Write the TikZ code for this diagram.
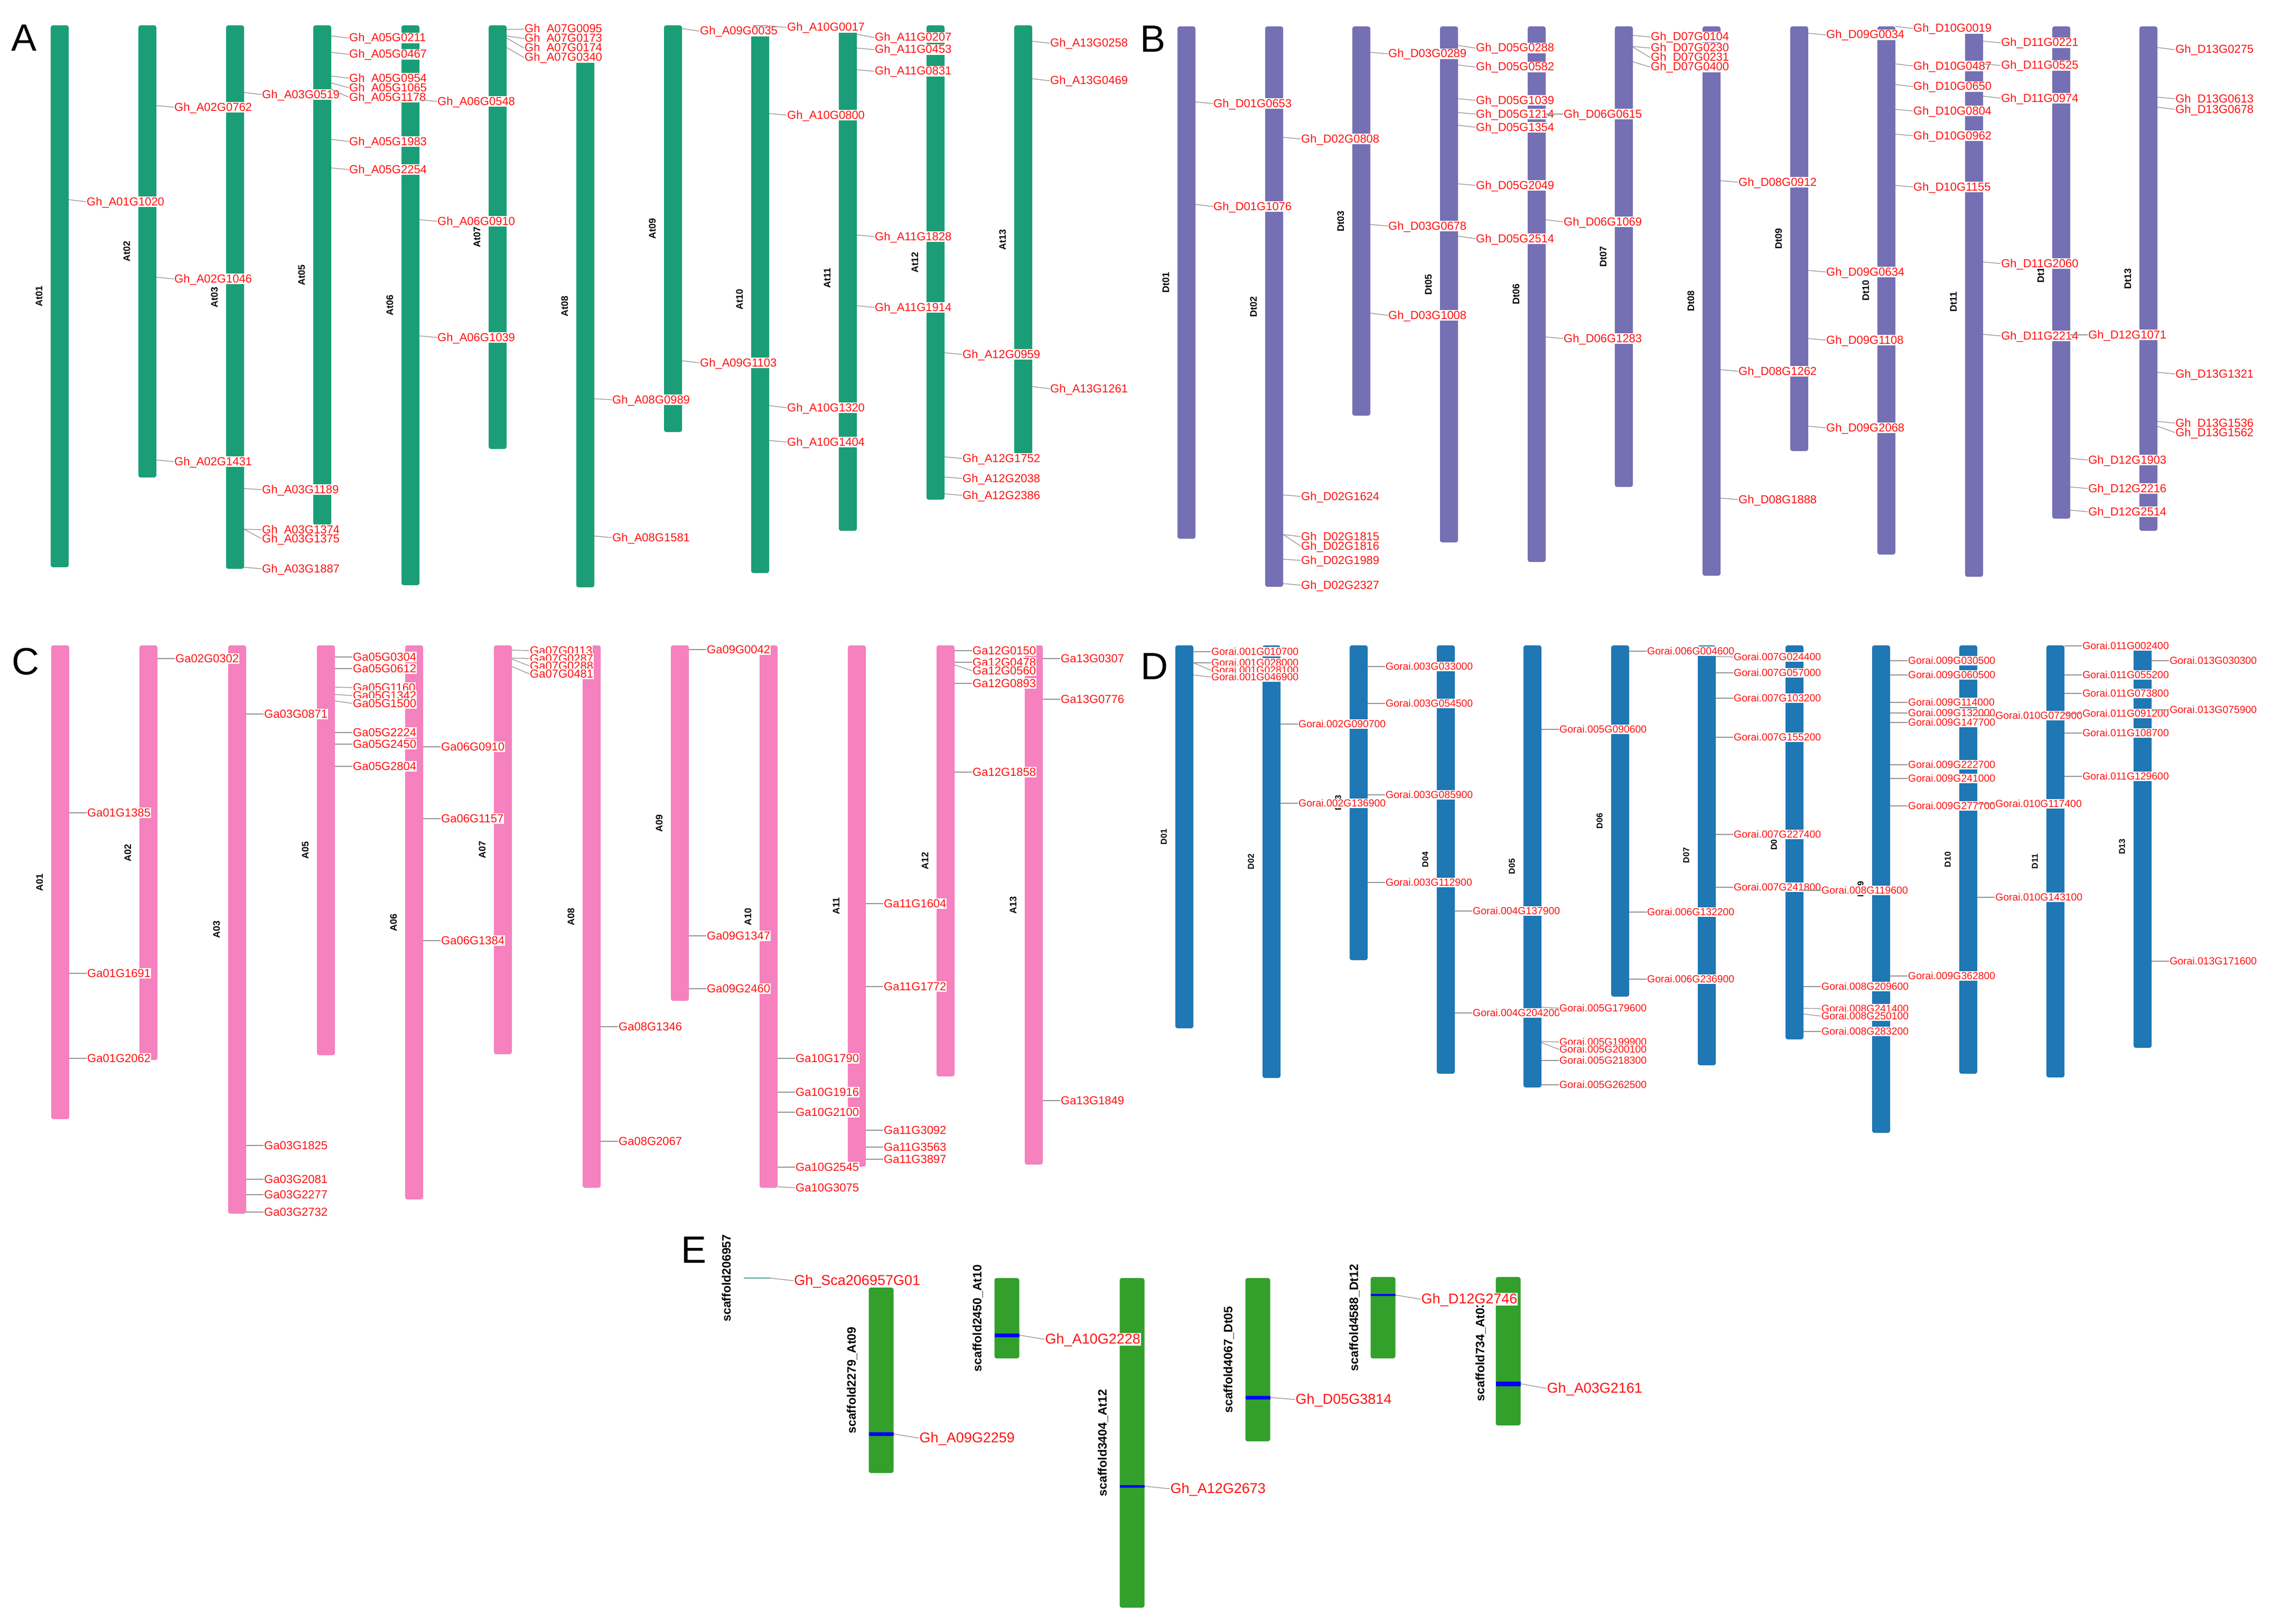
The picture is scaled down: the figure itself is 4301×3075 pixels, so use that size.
\documentclass[tikz,border=0pt]{standalone}
\usepackage{fontspec}
\setmainfont{Liberation Sans}
\definecolor{cA}{HTML}{1B9E77}
\definecolor{cB}{HTML}{7570B3}
\definecolor{cC}{HTML}{F581BE}
\definecolor{cD}{HTML}{1F77B4}
\definecolor{cE}{HTML}{33A02C}
\definecolor{cT}{HTML}{4FA89C}
\definecolor{lred}{HTML}{FF1010}
\definecolor{lgray}{HTML}{959595}
\tikzset{
 chrbar/.style={draw=none, rounded corners=4pt, minimum width=34pt, inner sep=0pt, outer sep=0pt},
 chrlab/.style={font=\fontsize{18}{18}\selectfont\bfseries, rotate=90, inner sep=0pt},
 glab/.style={anchor=west, fill=white, text=lred, inner xsep=1pt, inner ysep=1pt, text height=16pt, text depth=2pt, font=\fontsize{22}{22}\selectfont},
 conn/.style={draw=lgray, line width=1.3pt},
 panel/.style={font=\fontsize{72}{72}\selectfont, inner sep=0pt},
 elab/.style={font=\fontsize{23}{23}\selectfont\bfseries, rotate=90, inner sep=0pt},
 bluemark/.style={draw=blue},
}
\newcommand\chr[5]{%
 \pgfmathsetmacro\hh{#4-#3}\pgfmathsetmacro\mm{(#3+#4)/2}%
 \node[chrbar,fill=#5,minimum height=\hh pt] (#1) at (#2,\mm) {};%
 \node[chrlab] (#1l) at ([xshift=-39pt]#1.center) {#1};}
\newcommand\chrE[4]{%
 \pgfmathsetmacro\hh{#4-#3}\pgfmathsetmacro\mm{(#3+#4)/2}%
 \node[chrbar,fill=cE,minimum width=47pt,minimum height=\hh pt] (#1) at (#2,\mm) {};}
\newcounter{gn}
\newcommand\gl[5][33]{\stepcounter{gn}\edef\gid{\arabic{gn}}%
 \coordinate (m\gid) at (#2.east |- 0,#3);%
 \node[glab,xshift=#1pt] (g\gid) at (#2.east |- 0,#4) {#5};%
 \draw[conn] (m\gid) -- (g\gid.west);}
\begin{document}
\begin{tikzpicture}[x=1pt,y=-1pt]
\useasboundingbox (0,0) rectangle (4301,3075);
\fill[white] (0,0) rectangle (4301,3075);
% ---------------- Panel A
\node[panel] (pA) at (46,72) {A};
\chr{At01}{113}{48}{1074}{cA}
\chr{At02}{279}{48}{904}{cA}
\chr{At03}{445}{48}{1077}{cA}
\chr{At05}{610}{48}{994}{cA}
\chr{At06}{777}{48}{1108}{cA}
\chr{At07}{942}{48}{850}{cA}
\chr{At08}{1108}{48}{1112}{cA}
\chr{At09}{1274}{48}{818}{cA}
\chr{At10}{1439}{48}{1085}{cA}
\chr{At11}{1605}{48}{1005}{cA}
\chr{At12}{1771}{48}{946}{cA}
\chr{At13}{1937}{48}{860}{cA}
\gl{At01}{378}{382}{Gh\_A01G1020}
\gl{At02}{200}{203}{Gh\_A02G0762}
\gl{At02}{525}{528}{Gh\_A02G1046}
\gl{At02}{871}{874}{Gh\_A02G1431}
\gl{At03}{175}{179}{Gh\_A03G0519}
\gl{At03}{925}{927}{Gh\_A03G1189}
\gl{At03}{1002}{1003}{Gh\_A03G1374}
\gl{At03}{1002}{1020}{Gh\_A03G1375}
\gl{At03}{1074}{1077}{Gh\_A03G1887}
\gl{At05}{68}{72}{Gh\_A05G0211}
\gl{At05}{99}{103}{Gh\_A05G0467}
\gl{At05}{144}{148}{Gh\_A05G0954}
\gl{At05}{157}{166}{Gh\_A05G1065}
\gl{At05}{169}{184}{Gh\_A05G1178}
\gl{At05}{264}{268}{Gh\_A05G1983}
\gl{At05}{318}{321}{Gh\_A05G2254}
\gl{At06}{189}{192}{Gh\_A06G0548}
\gl{At06}{416}{419}{Gh\_A06G0910}
\gl{At06}{636}{639}{Gh\_A06G1039}
\gl{At07}{56}{55}{Gh\_A07G0095}
\gl{At07}{68}{73}{Gh\_A07G0173}
\gl{At07}{72}{91}{Gh\_A07G0174}
\gl{At07}{90}{109}{Gh\_A07G0340}
\gl{At08}{755}{757}{Gh\_A08G0989}
\gl{At08}{1015}{1018}{Gh\_A08G1581}
\gl{At09}{54}{59}{Gh\_A09G0035}
\gl{At09}{683}{687}{Gh\_A09G1103}
\gl{At10}{49}{52}{Gh\_A10G0017}
\gl{At10}{215}{218}{Gh\_A10G0800}
\gl{At10}{768}{772}{Gh\_A10G1320}
\gl{At10}{834}{837}{Gh\_A10G1404}
\gl{At11}{65}{71}{Gh\_A11G0207}
\gl{At11}{91}{94}{Gh\_A11G0453}
\gl{At11}{132}{135}{Gh\_A11G0831}
\gl{At11}{445}{448}{Gh\_A11G1828}
\gl{At11}{579}{582}{Gh\_A11G1914}
\gl{At12}{668}{671}{Gh\_A12G0959}
\gl{At12}{865}{868}{Gh\_A12G1752}
\gl{At12}{903}{906}{Gh\_A12G2038}
\gl{At12}{935}{938}{Gh\_A12G2386}
\gl{At13}{78}{82}{Gh\_A13G0258}
\gl{At13}{149}{153}{Gh\_A13G0469}
\gl{At13}{732}{736}{Gh\_A13G1261}
% ---------------- Panel B
\node[panel] (pB) at (2182,74) {B};
\chr{Dt01}{2246}{50}{1020}{cB}
\chr{Dt02}{2412}{50}{1111}{cB}
\chr{Dt03}{2577}{50}{787}{cB}
\chr{Dt05}{2743}{50}{1027}{cB}
\chr{Dt06}{2909}{50}{1064}{cB}
\chr{Dt07}{3074}{50}{922}{cB}
\chr{Dt08}{3240}{50}{1090}{cB}
\chr{Dt09}{3406}{50}{854}{cB}
\chr{Dt10}{3571}{50}{1050}{cB}
\chr{Dt11}{3737}{50}{1092}{cB}
\chr{Dt12}{3902}{50}{982}{cB}
\chr{Dt13}{4067}{50}{1005}{cB}
\gl{Dt01}{193}{196}{Gh\_D01G0653}
\gl{Dt01}{387}{391}{Gh\_D01G1076}
\gl{Dt02}{260}{263}{Gh\_D02G0808}
\gl{Dt02}{937}{940}{Gh\_D02G1624}
\gl{Dt02}{1012}{1016}{Gh\_D02G1815}
\gl{Dt02}{1012}{1034}{Gh\_D02G1816}
\gl{Dt02}{1059}{1061}{Gh\_D02G1989}
\gl{Dt02}{1105}{1108}{Gh\_D02G2327}
\gl{Dt03}{99}{102}{Gh\_D03G0289}
\gl{Dt03}{425}{428}{Gh\_D03G0678}
\gl{Dt03}{593}{597}{Gh\_D03G1008}
\gl{Dt05}{86}{91}{Gh\_D05G0288}
\gl{Dt05}{123}{127}{Gh\_D05G0582}
\gl{Dt05}{187}{190}{Gh\_D05G1039}
\gl{Dt05}{213}{216}{Gh\_D05G1214}
\gl{Dt05}{237}{241}{Gh\_D05G1354}
\gl{Dt05}{348}{351}{Gh\_D05G2049}
\gl{Dt05}{447}{452}{Gh\_D05G2514}
\gl{Dt06}{216}{216}{Gh\_D06G0615}
\gl{Dt06}{416}{420}{Gh\_D06G1069}
\gl{Dt06}{638}{641}{Gh\_D06G1283}
\gl{Dt07}{67}{70}{Gh\_D07G0104}
\gl{Dt07}{88}{91}{Gh\_D07G0230}
\gl{Dt07}{89}{109}{Gh\_D07G0231}
\gl{Dt07}{117}{127}{Gh\_D07G0400}
\gl{Dt08}{342}{345}{Gh\_D08G0912}
\gl{Dt08}{700}{703}{Gh\_D08G1262}
\gl{Dt08}{943}{946}{Gh\_D08G1888}
\gl{Dt09}{63}{66}{Gh\_D09G0034}
\gl{Dt09}{512}{515}{Gh\_D09G0634}
\gl{Dt09}{641}{644}{Gh\_D09G1108}
\gl{Dt09}{807}{810}{Gh\_D09G2068}
\gl{Dt10}{50}{54}{Gh\_D10G0019}
\gl{Dt10}{121}{125}{Gh\_D10G0487}
\gl{Dt10}{160}{164}{Gh\_D10G0650}
\gl{Dt10}{207}{210}{Gh\_D10G0804}
\gl{Dt10}{254}{257}{Gh\_D10G0962}
\gl{Dt10}{351}{354}{Gh\_D10G1155}
\gl{Dt11}{78}{81}{Gh\_D11G0221}
\gl{Dt11}{121}{124}{Gh\_D11G0525}
\gl{Dt11}{182}{186}{Gh\_D11G0974}
\gl{Dt11}{496}{499}{Gh\_D11G2060}
\gl{Dt11}{633}{636}{Gh\_D11G2214}
\gl{Dt12}{634}{634}{Gh\_D12G1071}
\gl{Dt12}{868}{871}{Gh\_D12G1903}
\gl{Dt12}{922}{925}{Gh\_D12G2216}
\gl{Dt12}{966}{969}{Gh\_D12G2514}
\gl{Dt13}{90}{94}{Gh\_D13G0275}
\gl{Dt13}{184}{187}{Gh\_D13G0613}
\gl{Dt13}{203}{207}{Gh\_D13G0678}
\gl{Dt13}{705}{708}{Gh\_D13G1321}
\gl{Dt13}{798}{801}{Gh\_D13G1536}
\gl{Dt13}{807}{819}{Gh\_D13G1562}
% ---------------- Panel C
\node[panel] (pC) at (48,1253) {C};
\chr{A01}{114}{1222}{2119}{cC}
\chr{A02}{281}{1222}{2007}{cC}
\chr{A03}{449}{1222}{2298}{cC}
\chr{A05}{617}{1222}{1998}{cC}
\chr{A06}{784}{1222}{2271}{cC}
\chr{A07}{952}{1222}{1996}{cC}
\chr{A08}{1120}{1222}{2249}{cC}
\chr{A09}{1287}{1222}{1895}{cC}
\chr{A10}{1455}{1222}{2249}{cC}
\chr{A11}{1622}{1222}{2209}{cC}
\chr{A12}{1790}{1222}{2038}{cC}
\chr{A13}{1957}{1222}{2205}{cC}
\gl{A01}{1539}{1539}{Ga01G1385}
\gl{A01}{1843}{1843}{Ga01G1691}
\gl{A01}{2004}{2004}{Ga01G2062}
\gl{A02}{1247}{1247}{Ga02G0302}
\gl{A03}{1352}{1352}{Ga03G0871}
\gl{A03}{2169}{2169}{Ga03G1825}
\gl{A03}{2233}{2233}{Ga03G2081}
\gl{A03}{2262}{2262}{Ga03G2277}
\gl{A03}{2295}{2295}{Ga03G2732}
\gl{A05}{1244}{1244}{Ga05G0304}
\gl{A05}{1266}{1266}{Ga05G0612}
\gl{A05}{1301}{1302}{Ga05G1160}
\gl{A05}{1315}{1317}{Ga05G1342}
\gl{A05}{1327}{1332}{Ga05G1500}
\gl{A05}{1387}{1387}{Ga05G2224}
\gl{A05}{1409}{1409}{Ga05G2450}
\gl{A05}{1451}{1451}{Ga05G2804}
\gl{A06}{1414}{1414}{Ga06G0910}
\gl{A06}{1550}{1550}{Ga06G1157}
\gl{A06}{1781}{1781}{Ga06G1384}
\gl{A07}{1231}{1232}{Ga07G0113}
\gl{A07}{1246}{1247}{Ga07G0287}
\gl{A07}{1248}{1261}{Ga07G0288}
\gl{A07}{1262}{1276}{Ga07G0481}
\gl{A08}{1944}{1944}{Ga08G1346}
\gl{A08}{2161}{2161}{Ga08G2067}
\gl{A09}{1230}{1230}{Ga09G0042}
\gl{A09}{1772}{1772}{Ga09G1347}
\gl{A09}{1872}{1872}{Ga09G2460}
\gl{A10}{2004}{2004}{Ga10G1790}
\gl{A10}{2068}{2068}{Ga10G1916}
\gl{A10}{2106}{2106}{Ga10G2100}
\gl{A10}{2210}{2210}{Ga10G2545}
\gl{A10}{2247}{2249}{Ga10G3075}
\gl{A11}{1711}{1711}{Ga11G1604}
\gl{A11}{1868}{1868}{Ga11G1772}
\gl{A11}{2140}{2140}{Ga11G3092}
\gl{A11}{2172}{2172}{Ga11G3563}
\gl{A11}{2195}{2195}{Ga11G3897}
\gl{A12}{1232}{1232}{Ga12G0150}
\gl{A12}{1254}{1254}{Ga12G0478}
\gl{A12}{1259}{1270}{Ga12G0560}
\gl{A12}{1294}{1294}{Ga12G0893}
\gl{A12}{1462}{1462}{Ga12G1858}
\gl{A13}{1247}{1247}{Ga13G0307}
\gl{A13}{1324}{1324}{Ga13G0776}
\gl{A13}{2084}{2084}{Ga13G1849}
% ---------------- Panel D
\node[panel] (pD) at (2185,1262) {D};
\begin{scope}[chrlab/.append style={font=\fontsize{16}{16}\selectfont\bfseries},
 glab/.append style={font=\fontsize{19.4}{19.4}\selectfont, text height=14pt, text depth=2pt}]
\chr{D01}{2242}{1222}{1947}{cD}
\chr{D02}{2407}{1222}{2041}{cD}
\chr{D03}{2572}{1222}{1818}{cD}
\chr{D04}{2737}{1222}{2033}{cD}
\chr{D05}{2901}{1222}{2059}{cD}
\chr{D06}{3067}{1222}{1887}{cD}
\chr{D07}{3231}{1222}{2017}{cD}
\chr{D08}{3397}{1222}{1968}{cD}
\chr{D09}{3561}{1222}{2145}{cD}
\chr{D10}{3726}{1222}{2033}{cD}
\chr{D11}{3891}{1222}{2040}{cD}
\chr{D13}{4056}{1222}{1984}{cD}
\gl{D01}{1234}{1234}{Gorai.001G010700}
\gl{D01}{1255}{1255}{Gorai.001G028000}
\gl{D01}{1255}{1269}{Gorai.001G028100}
\gl{D01}{1278}{1282}{Gorai.001G046900}
\gl{D02}{1371}{1371}{Gorai.002G090700}
\gl{D02}{1521}{1521}{Gorai.002G136900}
\gl{D03}{1262}{1262}{Gorai.003G033000}
\gl{D03}{1332}{1332}{Gorai.003G054500}
\gl{D03}{1505}{1505}{Gorai.003G085900}
\gl{D03}{1671}{1671}{Gorai.003G112900}
\gl{D04}{1725}{1725}{Gorai.004G137900}
\gl{D04}{1918}{1918}{Gorai.004G204200}
\gl{D05}{1381}{1381}{Gorai.005G090600}
\gl{D05}{1907}{1909}{Gorai.005G179600}
\gl{D05}{1972}{1973}{Gorai.005G199900}
\gl{D05}{1974}{1987}{Gorai.005G200100}
\gl{D05}{2008}{2008}{Gorai.005G218300}
\gl{D05}{2054}{2054}{Gorai.005G262500}
\gl{D06}{1233}{1233}{Gorai.006G004600}
\gl{D06}{1727}{1727}{Gorai.006G132200}
\gl{D06}{1854}{1854}{Gorai.006G236900}
\gl{D07}{1243}{1244}{Gorai.007G024400}
\gl{D07}{1274}{1274}{Gorai.007G057000}
\gl{D07}{1322}{1322}{Gorai.007G103200}
\gl{D07}{1396}{1396}{Gorai.007G155200}
\gl{D07}{1580}{1580}{Gorai.007G227400}
\gl{D07}{1680}{1680}{Gorai.007G241800}
\gl{D08}{1686}{1686}{Gorai.008G119600}
\gl{D08}{1868}{1868}{Gorai.008G209600}
\gl{D08}{1909}{1910}{Gorai.008G241400}
\gl{D08}{1920}{1924}{Gorai.008G250100}
\gl{D08}{1953}{1953}{Gorai.008G283200}
\gl{D09}{1251}{1251}{Gorai.009G030500}
\gl{D09}{1278}{1278}{Gorai.009G060500}
\gl{D09}{1330}{1330}{Gorai.009G114000}
\gl{D09}{1350}{1350}{Gorai.009G132000}
\gl{D09}{1368}{1368}{Gorai.009G147700}
\gl{D09}{1448}{1448}{Gorai.009G222700}
\gl{D09}{1474}{1474}{Gorai.009G241000}
\gl{D09}{1526}{1526}{Gorai.009G277700}
\gl{D09}{1848}{1848}{Gorai.009G362800}
\gl{D10}{1355}{1355}{Gorai.010G072900}
\gl{D10}{1522}{1522}{Gorai.010G117400}
\gl{D10}{1699}{1699}{Gorai.010G143100}
\gl{D11}{1223}{1223}{Gorai.011G002400}
\gl{D11}{1278}{1278}{Gorai.011G055200}
\gl{D11}{1313}{1313}{Gorai.011G073800}
\gl{D11}{1351}{1351}{Gorai.011G091200}
\gl{D11}{1388}{1388}{Gorai.011G108700}
\gl{D11}{1470}{1470}{Gorai.011G129600}
\gl{D13}{1251}{1251}{Gorai.013G030300}
\gl{D13}{1344}{1344}{Gorai.013G075900}
\gl{D13}{1820}{1820}{Gorai.013G171600}
\end{scope}
% ---------------- Panel E
\node[panel] (pE) at (1313,2367) {E};
\begin{scope}[glab/.append style={font=\fontsize{27}{27}\selectfont, text height=19.5pt, text depth=3pt}]
\node[draw=none, fill=cT, minimum width=50pt, minimum height=2pt, inner sep=0pt] (S206957) at (1433,2420) {};
\chrE{S2279}{1668}{2438}{2789}
\chrE{S2450}{1906}{2420}{2572}
\chrE{S3404}{2143}{2420}{3044}
\chrE{S4067}{2381}{2420}{2729}
\chrE{S4588}{2618}{2418}{2572}
\chrE{S734}{2855}{2418}{2699}
\draw[bluemark, line width=7pt] (S2279.west |- 0,2715) -- (S2279.east |- 0,2715);
\draw[bluemark, line width=7pt] (S2450.west |- 0,2528) -- (S2450.east |- 0,2528);
\draw[bluemark, line width=5pt] (S3404.west |- 0,2814) -- (S3404.east |- 0,2814);
\draw[bluemark, line width=7pt] (S4067.west |- 0,2646) -- (S4067.east |- 0,2646);
\draw[bluemark, line width=4pt] (S4588.west |- 0,2452) -- (S4588.east |- 0,2452);
\draw[bluemark, line width=9pt] (S734.west |- 0,2620) -- (S734.east |- 0,2620);
\node[elab] (S206957l) at ([xshift=-58pt]S206957.center) {scaffold206957};
\node[elab] (S2279l) at ([xshift=-55pt]S2279.center) {scaffold2279\_At09};
\node[elab] (S2450l) at ([xshift=-55pt]S2450.center) {scaffold2450\_At10};
\node[elab] (S3404l) at ([xshift=-55pt]S3404.center) {scaffold3404\_At12};
\node[elab] (S4067l) at ([xshift=-55pt]S4067.center) {scaffold4067\_Dt05};
\node[elab] (S4588l) at ([xshift=-54pt]S4588.center) {scaffold4588\_Dt12};
\node[elab] (S734l) at ([xshift=-52pt]S734.center) {scaffold734\_At03};
\gl[44]{S206957}{2420}{2425}{Gh\_Sca206957G01}
\gl[48]{S2279}{2715}{2723}{Gh\_A09G2259}
\gl[48]{S2450}{2528}{2536}{Gh\_A10G2228}
\gl[48]{S3404}{2814}{2819}{Gh\_A12G2673}
\gl[47]{S4067}{2646}{2650}{Gh\_D05G3814}
\gl[48]{S4588}{2452}{2460}{Gh\_D12G2746}
\gl[49]{S734}{2620}{2629}{Gh\_A03G2161}
\end{scope}
\end{tikzpicture}
\end{document}
